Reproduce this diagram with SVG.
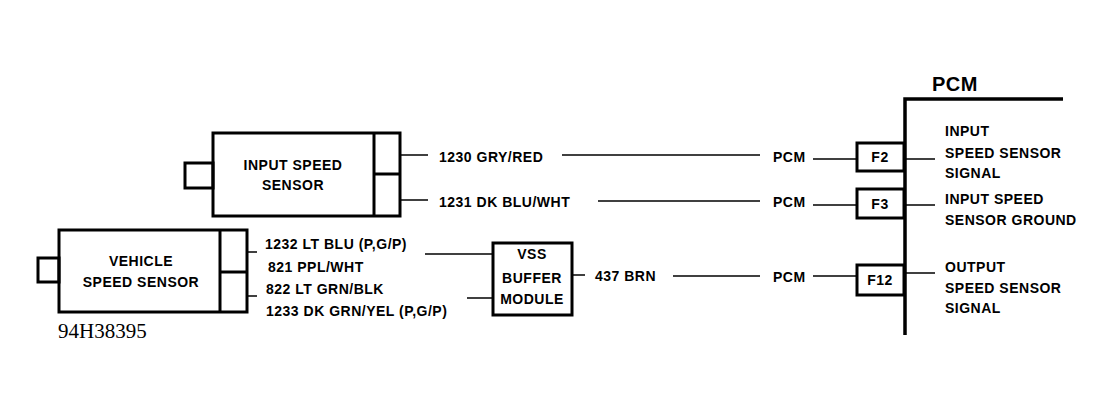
<svg xmlns="http://www.w3.org/2000/svg" width="1116" height="414" viewBox="0 0 1116 414">
<style>
.b{fill:none;stroke:#000;stroke-width:3}
.w{fill:none;stroke:#000;stroke-width:1.5}
text{font-family:"Liberation Sans",Arial,sans-serif;font-weight:bold;font-size:14px;letter-spacing:0.5px;fill:#000}
.c{text-anchor:middle}
</style>
<rect width="1116" height="414" fill="#fff"/>
<g id="iss">
<rect class="b" x="213" y="133" width="187" height="83"/>
<line class="b" x1="374" y1="133" x2="374" y2="216"/>
<line class="b" x1="374" y1="174" x2="400" y2="174"/>
<rect class="b" x="185" y="163" width="28" height="25"/>
<text class="c" x="293" y="170">INPUT SPEED</text>
<text class="c" x="293" y="190">SENSOR</text>
</g>
<g id="vss">
<rect class="b" x="59" y="230" width="188" height="82"/>
<line class="b" x1="220" y1="230" x2="220" y2="312"/>
<line class="b" x1="220" y1="272" x2="247" y2="272"/>
<rect class="b" x="38" y="258" width="21" height="24"/>
<text class="c" x="141" y="266">VEHICLE</text>
<text class="c" x="141" y="287">SPEED SENSOR</text>
<text x="58" y="338" style="font-family:'Liberation Serif',serif;font-weight:normal;font-size:21px;letter-spacing:0">94H38395</text>
</g>
<g id="buffer">
<rect class="b" x="493" y="243" width="79" height="72"/>
<text class="c" x="532" y="259">VSS</text>
<text class="c" x="532" y="283">BUFFER</text>
<text class="c" x="532" y="304">MODULE</text>
</g>
<g id="pcm">
<text x="932" y="91" style="font-size:20px">PCM</text>
<polyline points="905,335 905,99 1063,99" fill="none" stroke="#000" stroke-width="3.5"/>
<rect class="b" x="857" y="143" width="47" height="28"/>
<rect class="b" x="857" y="189" width="47" height="29"/>
<rect class="b" x="857" y="265" width="47" height="30"/>
<text class="c" x="880" y="162">F2</text>
<text class="c" x="880" y="209">F3</text>
<text class="c" x="880" y="285">F12</text>
<text x="945" y="136">INPUT</text>
<text x="945" y="158">SPEED SENSOR</text>
<text x="945" y="178">SIGNAL</text>
<text x="945" y="204">INPUT SPEED</text>
<text x="945" y="225">SENSOR GROUND</text>
<text x="945" y="272">OUTPUT</text>
<text x="945" y="293">SPEED SENSOR</text>
<text x="945" y="313">SIGNAL</text>
</g>
<g id="connectors">
<line class="w" x1="400" y1="155" x2="428" y2="155"/>
<line class="w" x1="562" y1="155" x2="760" y2="155"/>
<line class="w" x1="813" y1="159" x2="857" y2="159"/>
<line class="w" x1="400" y1="200" x2="428" y2="200"/>
<line class="w" x1="598" y1="201" x2="760" y2="201"/>
<line class="w" x1="813" y1="205" x2="857" y2="205"/>
<line class="w" x1="247" y1="252" x2="257" y2="252"/>
<line class="w" x1="247" y1="296" x2="257" y2="296"/>
<line class="w" x1="425" y1="254" x2="493" y2="254"/>
<line class="w" x1="467" y1="298" x2="493" y2="298"/>
<line class="w" x1="572" y1="275" x2="585" y2="275"/>
<line class="w" x1="673" y1="276" x2="760" y2="276"/>
<line class="w" x1="813" y1="276" x2="857" y2="276"/>
<line class="w" x1="905" y1="159" x2="935" y2="159"/>
<line class="w" x1="905" y1="205" x2="935" y2="205"/>
<line class="w" x1="905" y1="273" x2="935" y2="273"/>
<text x="439" y="162">1230 GRY/RED</text>
<text x="439" y="207">1231 DK BLU/WHT</text>
<text x="773" y="162">PCM</text>
<text x="773" y="207">PCM</text>
<text x="773" y="282">PCM</text>
<text x="595" y="281">437 BRN</text>
<text x="265" y="249">1232 LT BLU (P,G/P)</text>
<text x="268" y="272">821 PPL/WHT</text>
<text x="266" y="294">822 LT GRN/BLK</text>
<text x="266" y="316">1233 DK GRN/YEL (P,G/P)</text>
</g>
</svg>
